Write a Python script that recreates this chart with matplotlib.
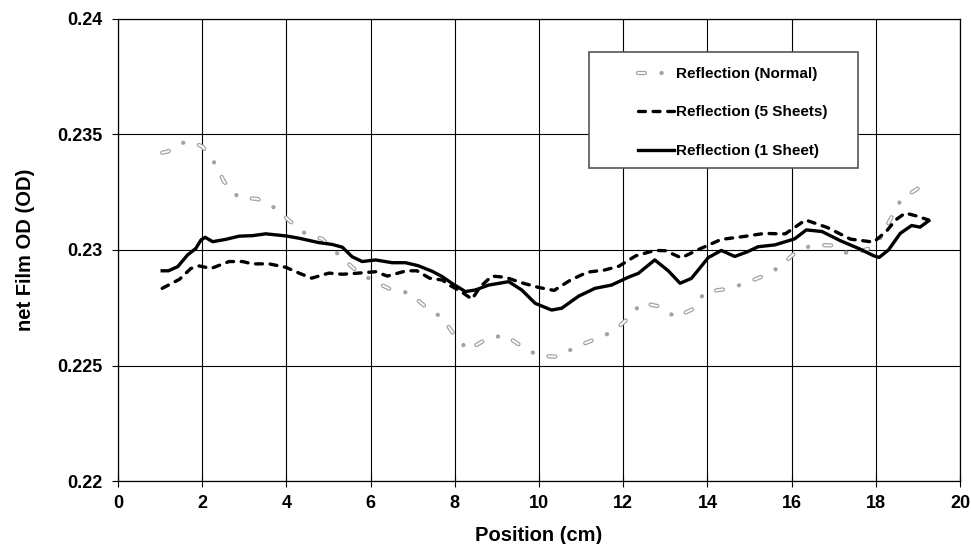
import matplotlib
matplotlib.use('Agg')
import matplotlib.pyplot as plt
from matplotlib.ticker import FuncFormatter
from matplotlib.patches import Rectangle

plt.rcParams['font.family'] = ['Liberation Sans', 'DejaVu Sans']
plt.rcParams['font.weight'] = 'bold'
plt.rcParams['lines.scale_dashes'] = False

# Reflection (1 Sheet)
x_one = [1.05, 1.2, 1.42, 1.65, 1.85, 1.97, 2.07, 2.25, 2.56, 2.88, 3.19, 3.51, 3.83, 4.02,
         4.3, 4.77, 5.09, 5.33, 5.56, 5.8, 6.12, 6.51, 6.83, 7.13, 7.46, 7.7, 7.93, 8.25,
         8.49, 8.8, 9.28, 9.59, 9.91, 10.3, 10.54, 10.94, 11.33, 11.72, 12.12, 12.36, 12.75,
         13.07, 13.35, 13.62, 14.02, 14.33, 14.65, 14.96, 15.2, 15.6, 16.07, 16.35, 16.72,
         17.16, 17.6, 17.95, 18.08, 18.3, 18.58, 18.85, 19.05, 19.26]
y_one = [0.2291, 0.2291, 0.22928, 0.22978, 0.23007, 0.23043, 0.23055, 0.23036, 0.23046,
         0.2306, 0.23062, 0.2307, 0.23064, 0.2306, 0.23051, 0.23032, 0.23024, 0.23012,
         0.22971, 0.2295, 0.22957, 0.22945, 0.22945, 0.22932, 0.22908, 0.22885, 0.22856,
         0.2282, 0.22827, 0.22848, 0.22863, 0.22827, 0.22769, 0.2274, 0.22748, 0.228,
         0.22834, 0.22848, 0.22882, 0.22899, 0.22957, 0.2291, 0.22856, 0.22877, 0.22967,
         0.22998, 0.22972, 0.22993, 0.23014, 0.23022, 0.23048, 0.23087, 0.2308, 0.2304,
         0.23006, 0.22975, 0.22968, 0.23, 0.23072, 0.23106, 0.23099, 0.23127]

# Reflection (5 Sheets)
x_five = [1.05, 1.46, 1.73, 1.93, 2.21, 2.64, 2.96, 3.19, 3.59, 3.99, 4.3, 4.6, 5.01, 5.33,
          5.72, 6.12, 6.4, 6.85, 7.1, 7.4, 7.7, 7.9, 8.15, 8.41, 8.6, 8.88, 9.2, 9.59, 9.99,
          10.36, 10.75, 11.15, 11.55, 11.9, 12.3, 12.75, 13.0, 13.38, 13.8, 14.33, 14.85,
          15.36, 15.7, 15.85, 16.33, 16.84, 17.4, 17.95, 18.26, 18.47, 18.7, 18.95, 19.25]
y_five = [0.22834, 0.22873, 0.2292, 0.22931, 0.2292, 0.2295, 0.2295, 0.2294, 0.2294,
          0.22925, 0.229, 0.22878, 0.229, 0.22895, 0.229, 0.22906, 0.22887, 0.2291, 0.2291,
          0.22878, 0.2287, 0.22845, 0.2282, 0.22787, 0.2284, 0.22887, 0.22882, 0.22858,
          0.22838, 0.22825, 0.2287, 0.22904, 0.22913, 0.2293, 0.22975, 0.22998, 0.22997,
          0.22966, 0.23003, 0.23046, 0.23058, 0.23072, 0.2307, 0.2307, 0.2313, 0.23098,
          0.23047, 0.23034, 0.23083, 0.2313, 0.2316, 0.23148, 0.2313]

# Reflection (Normal)
x_norm = [1.05, 1.18, 1.35, 1.6, 1.8, 2.01, 2.3, 2.52, 2.86, 3.31, 3.75, 4.1, 4.47, 4.85,
          5.25, 5.6, 6.02, 6.47, 6.93, 7.3, 7.7, 7.99, 8.31, 8.74, 9.18, 9.58, 9.99, 10.45,
          10.86, 11.32, 11.75, 12.12, 12.44, 12.87, 13.25, 13.66, 13.94, 14.4, 14.85, 15.28,
          15.7, 16.07, 16.49, 16.94, 17.38, 17.85, 18.1, 18.38, 18.61, 19.01, 19.25]
y_norm = [0.23421, 0.23426, 0.23445, 0.23469, 0.23465, 0.23447, 0.23375, 0.23296, 0.23228,
          0.23221, 0.2318, 0.23122, 0.23068, 0.23048, 0.22978, 0.2292, 0.2287, 0.2283,
          0.22813, 0.22755, 0.22707, 0.22632, 0.22567, 0.22613, 0.22632, 0.22584, 0.22542,
          0.22538, 0.22579, 0.22613, 0.22646, 0.22704, 0.22772, 0.22755, 0.22708, 0.22745,
          0.22818, 0.2283, 0.22852, 0.22884, 0.22924, 0.22986, 0.23022, 0.2302, 0.22981,
          0.23007, 0.2305, 0.23144, 0.23222, 0.23267, 0.23277]

x_ticks = [0, 2, 4, 6, 8, 10, 12, 14, 16, 18, 20]
y_ticks = [0.22, 0.225, 0.23, 0.235, 0.24]
labels = ['Reflection (Normal)', 'Reflection (5 Sheets)', 'Reflection (1 Sheet)']

fig = plt.figure(figsize=(9.71, 5.44), dpi=100)
ax = fig.add_axes([0.1215, 0.1158, 0.8672, 0.8493])

# gray hollow dash + dot line: gray stroke, white core over the dashes only
norm_gray, = ax.plot(x_norm, y_norm, color='#a3a3a3', lw=3.1,
                     dashes=(5, 11.9, 0.1, 11.8), dash_capstyle='round', zorder=3)
norm_white, = ax.plot(x_norm, y_norm, color='white', lw=1.3,
                      dashes=(5, 23.8), dash_capstyle='round', zorder=3.1)
five, = ax.plot(x_five, y_five, color='black', lw=2.4, dashes=(5, 5.5),
                dash_capstyle='round', zorder=4)
one, = ax.plot(x_one, y_one, color='black', lw=2.4, zorder=5)

ax.set_xlim(0, 20)
ax.set_ylim(0.22, 0.24)
ax.set_xticks(x_ticks)
ax.set_yticks(y_ticks)
ax.yaxis.set_major_formatter(FuncFormatter(lambda v, p: '%g' % round(v, 4)))
ax.grid(True, color='black', lw=0.8)
ax.set_axisbelow(True)
for s in ax.spines.values():
    s.set_linewidth(0.9)
ax.tick_params(axis='x', direction='inout', length=8, width=0.8, labelsize=13, pad=6)
ax.tick_params(axis='y', direction='out', length=4, width=0.8, labelsize=13, pad=7)

ax.set_xlabel('Position (cm)', fontsize=14.5, fontweight='bold', labelpad=10)
ax.set_ylabel('net Film OD (OD)', fontsize=14.5, fontweight='bold', labelpad=16)

# legend box drawn by hand (wide left margin like the original)
ax.add_patch(Rectangle((0.5594, 0.6775), 0.3195, 0.2511, transform=ax.transAxes,
                       facecolor='white', edgecolor='#555555', lw=1.2, zorder=6))
leg = ax.legend([(norm_gray, norm_white), five, one], labels,
                loc='upper left', bbox_to_anchor=(0.617, 0.896), fontsize=11,
                handlelength=2.4, handletextpad=0.1, labelspacing=1.6,
                borderpad=0, borderaxespad=0, frameon=False)
leg.set_zorder(7)

fig.savefig('out.png', dpi=100)
